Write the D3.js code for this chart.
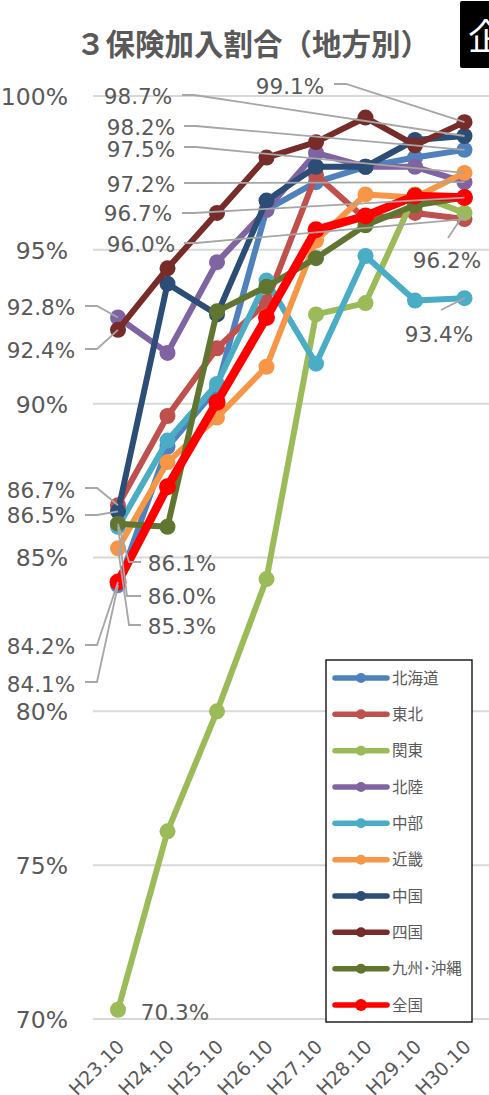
<!DOCTYPE html>
<html><head><meta charset="utf-8">
<script src="https://cdnjs.cloudflare.com/ajax/libs/d3/7.8.5/d3.min.js"></script>
<style>html,body{margin:0;padding:0;background:#fff;overflow:hidden}svg{display:block}</style></head>
<body><svg id="c" width="489" height="1095"></svg>
<script>
const categories=["H23.10","H24.10","H25.10","H26.10","H27.10","H28.10","H29.10","H30.10"];
const yTicks=[70,75,80,85,90,95,100];
const hokkaido=[84.1,88.6,90.5,96.3,97.2,97.7,98.0,98.25];
const tohoku=[86.7,89.6,91.8,93.3,97.43,96.0,96.2,96.0];
const kanto=[70.3,76.1,80.0,84.3,92.9,93.27,96.8,96.2];
const hokuriku=[92.8,91.65,94.6,96.3,98.15,97.7,97.7,97.2];
const chubu=[86.0,88.8,90.64,94.0,91.3,94.8,93.35,93.43];
const kinki=[85.3,88.1,89.55,91.2,95.3,96.8,96.7,97.5];
const chugoku=[86.5,93.9,92.9,96.6,97.7,97.7,98.57,98.7];
const shikoku=[92.4,94.4,96.2,98.0,98.5,99.3,98.4,99.15];
const kyushu=[86.1,86.0,93.0,93.8,94.73,95.8,96.45,96.7];
const zenkoku=[84.2,87.3,90.05,92.8,95.65,96.1,96.75,96.7];
const seriesNames=["北海道","東北","関東","北陸","中部","近畿","中国","四国","九州･沖縄","全国"];
const seriesValues=[hokkaido,tohoku,kanto,hokuriku,chubu,kinki,chugoku,shikoku,kyushu,zenkoku];
const seriesColors=["#4f81bd","#c0504d","#9bbb59","#8064a2","#4bacc6","#f79646","#2c4d75","#772c2a","#5f7530","#ff0000"];
const title="３保険加入割合（地方別）";
const badge="企";
// [label text, series index, category index]
const callouts=[
 ["99.1%",7,7],["98.7%",6,7],["98.2%",0,7],["97.5%",5,7],["97.2%",3,7],["96.7%",8,7],["96.0%",1,7],
 ["96.2%",2,7],["93.4%",4,7],
 ["92.8%",3,0],["92.4%",7,0],["86.7%",1,0],["86.5%",6,0],
 ["86.1%",8,0],["86.0%",4,0],["85.3%",5,0],["84.2%",9,0],["84.1%",0,0],["70.3%",2,0]
];
// label placement, parallel to callouts: text centre x, baseline y, elbow start, elbow knee
const calloutLayout=[
 [290,94,[334,84],[346,84]],[138,104,[182,95],[194,95]],[141,135,[184,126],[196,126]],[141,157,[184,147],[196,147]],
 [141,192,[184,183],[196,183]],[138,221,[182,213],[194,213]],[141,252,[184,243],[196,243]],
 [447,268,[448,238],[448,238]],[439,342,[441,310],[441,310]],
 [41,315,[85,306],[97,306]],[41,358,[85,349],[97,349]],[41,498,[85,488],[97,488]],[41,523,[85,515],[97,515]],
 [182,571,[141,562],[129,562]],[182,604,[141,596],[127,596]],[182,634,[141,625],[129,625]],
 [41,654,[85,645],[97,645]],[41,692,[85,682],[97,682]],[175,1020,null,null]
];
const svg=d3.select("#c");
const x=d3.scalePoint().domain(categories).range([118,464.5]);
const y=d3.scaleLinear().domain([70,100]).range([1019,96]);
const grey="#595959", latin="'DejaVu Sans',sans-serif", cjk="'Noto Sans CJK JP',sans-serif";
// gridlines
svg.append("g").selectAll("line").data(yTicks).join("line")
 .attr("x1",93).attr("x2",489).attr("y1",d=>y(d)).attr("y2",d=>y(d))
 .attr("stroke","#d9d9d9").attr("stroke-width",2);
// y axis
const ya=svg.append("g").attr("transform","translate(68,0)")
 .call(d3.axisLeft(y).tickValues(yTicks).tickSize(0).tickPadding(0).tickFormat(d=>d+"%"));
ya.select(".domain").remove();
ya.selectAll("text").attr("fill",grey).attr("font-family",latin).attr("font-size",23.5).attr("dy","0.36em");
// x axis
const xa=svg.append("g").attr("transform","translate(0,1019)").call(d3.axisBottom(x).tickSize(0).tickFormat(d=>d));
xa.select(".domain").remove();
xa.selectAll("text").attr("fill",grey).attr("font-family",latin).attr("font-size",19)
 .attr("text-anchor","end").attr("dy",0).attr("y",0)
 .attr("transform","translate(7,29) rotate(-45)");
// series
const line=d3.line().x((d,i)=>x(categories[i])).y(d=>y(d));
seriesValues.forEach((vals,s)=>{
 const isAll=s===9, g=svg.append("g");
 g.append("path").attr("d",line(vals)).attr("fill","none").attr("stroke",seriesColors[s])
  .attr("stroke-width",isAll?8.5:6).attr("stroke-linejoin","round").attr("stroke-linecap","round");
 g.selectAll("circle").data(vals).join("circle").attr("cx",(d,i)=>x(categories[i])).attr("cy",d=>y(d))
  .attr("r",isAll?8.5:8).attr("fill",seriesColors[s]);
});
// callouts
callouts.forEach((c,i)=>{
 const [tx,ty,p0,p1]=calloutLayout[i];
 const vx=x(categories[c[2]]), vy=y(seriesValues[c[1]][c[2]]);
 if(p0){
  svg.append("path").attr("d",d3.line()(p0[0]===p1[0]?[p0,[vx,vy]]:[p0,p1,[vx,vy]]))
   .attr("fill","none").attr("stroke","#a6a6a6").attr("stroke-width",1.8);
 }
 svg.append("text").attr("x",tx).attr("y",ty).attr("text-anchor","middle").attr("fill",grey)
  .attr("font-family",latin).attr("font-size",21.5).text(c[0]);
});
// title
svg.append("text").attr("x",253).attr("y",55).attr("text-anchor","middle").attr("fill",grey)
 .attr("font-family",cjk).attr("font-weight",700).attr("font-size",29.5).text(title);
// legend
const lg=svg.append("g");
lg.append("rect").attr("x",326).attr("y",660).attr("width",146).attr("height",362)
 .attr("fill","#fff").attr("stroke","#000").attr("stroke-width",1.3);
const ly=d3.scalePoint().domain(seriesNames).range([678,1005]);
seriesNames.forEach((n,s)=>{
 const g=lg.append("g").attr("transform",`translate(0,${ly(n)})`);
 g.append("line").attr("x1",335).attr("x2",387).attr("stroke",seriesColors[s]).attr("stroke-width",5.5).attr("stroke-linecap","round");
 g.append("circle").attr("cx",361).attr("r",s===9?6:5).attr("fill",seriesColors[s]);
 g.append("text").attr("x",392).attr("y",5.5).attr("fill",grey).attr("font-family",cjk).attr("font-size",15.5).text(n);
});
// corner badge
svg.append("rect").attr("x",460).attr("y",1).attr("width",35).attr("height",67).attr("rx",2).attr("fill","#000");
svg.append("text").attr("x",468).attr("y",50).attr("fill","#fff").attr("font-family",cjk).attr("font-size",36).text(badge);
</script></body></html>
